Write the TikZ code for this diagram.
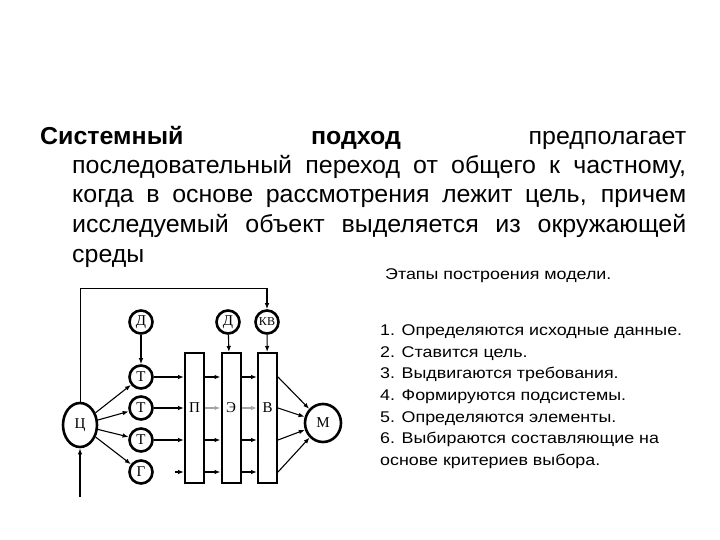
\documentclass[tikz,border=0pt]{standalone}
\usepackage{fontspec}
\usepackage{graphicx}
\setmainfont{Liberation Serif}
\newfontfamily\headfont{Liberation Sans}
\newfontfamily\listfont{Liberation Sans}
\usetikzlibrary{shapes.geometric, arrows.meta, positioning}
\newlength\natwidth

\begin{document}
% horizontal scale of the two text blocks
\settowidth\natwidth{\headfont\fontsize{24.5}{24.5}\selectfont последовательный}
\pgfmathsetmacro\headfac{220/\natwidth}
\pgfmathsetmacro\widthone{646/\headfac}
\pgfmathsetmacro\widthtwo{614/\headfac}
\settowidth\natwidth{\listfont\fontsize{15.5}{15.5}\selectfont 1. Определяются исходные данные.}
\pgfmathsetmacro\listfac{302/\natwidth}
\begin{tikzpicture}[x=1pt, y=-1pt,
        circ/.style={ellipse, draw, line width=2.6pt, inner sep=0pt, minimum width=23pt, minimum height=23pt, font=\fontsize{15}{15}\selectfont},
        block/.style={rectangle, draw, line width=2pt, minimum width=19pt, minimum height=130pt, inner sep=0pt},
        arr/.style={-{Latex[length=6pt, width=4.5pt]}, line width=1.1pt},
        headline/.style={anchor=base west, inner sep=0pt, font=\headfont\fontsize{24.5}{24.5}\selectfont},
        listline/.style={anchor=base west, inner sep=0pt, font=\listfont\fontsize{15.5}{15.5}\selectfont}
    ]
        \useasboundingbox[fill=white] (0,0) rectangle (720,540);

        % heading paragraph
        \node[headline] (line1) at (40,145) {\scalebox{\headfac}[1]{\makebox[\widthone pt][s]{{\bfseries Системный}\hfill{\bfseries подход}\hfill предполагает}}};
        \node[headline] (line2) at (72,174) {\scalebox{\headfac}[1]{\makebox[\widthtwo pt][s]{последовательный переход от общего к частному,}}};
        \node[headline] (line3) at (72,203) {\scalebox{\headfac}[1]{\makebox[\widthtwo pt][s]{когда в основе рассмотрения лежит цель, причем}}};
        \node[headline] (line4) at (72,233) {\scalebox{\headfac}[1]{\makebox[\widthtwo pt][s]{исследуемый объект выделяется из окружающей}}};
        \node[headline] (line5) at (72,262) {\scalebox{\headfac}[1]{среды}};

        % stages
        \node[listline] (title) at (385,279) {\scalebox{\listfac}[1]{Этапы построения модели.}};
        \node[listline] (item1) at (380,335) {\scalebox{\listfac}[1]{1. Определяются исходные данные.}};
        \node[listline] (item2) at (380,357) {\scalebox{\listfac}[1]{2. Ставится цель.}};
        \node[listline] (item3) at (380,378) {\scalebox{\listfac}[1]{3. Выдвигаются требования.}};
        \node[listline] (item4) at (380,400) {\scalebox{\listfac}[1]{4. Формируются подсистемы.}};
        \node[listline] (item5) at (380,422) {\scalebox{\listfac}[1]{5. Определяются элементы.}};
        \node[listline] (item6) at (380,443) {\scalebox{\listfac}[1]{6. Выбираются составляющие на}};
        \node[listline] (item7) at (380,465) {\scalebox{\listfac}[1]{основе критериев выбора.}};

        % model scheme
        \node[circ, minimum width=34pt, minimum height=44pt] (c) at (80,425) {Ц};
        \node[circ] (d1) at (141,322) {Д};
        \node[circ] (t1) at (141,377) {Т};
        \node[circ] (t2) at (141,408) {Т};
        \node[circ] (t3) at (141,440) {Т};
        \node[circ] (g) at (141,472) {Г};
        \node[block] (p) at (194.5,418) {};
        \node[block] (e) at (231,418) {};
        \node[block] (v) at (267.5,418) {};
        \node[circ] (d2) at (228,322) {Д};
        \node[circ, font=\fontsize{12}{12}\selectfont] (kv) at (267,322) {КВ};
        \node[circ, minimum width=36pt, minimum height=38pt] (m) at (323,423) {М};

        \node[font=\fontsize{15}{15}\selectfont] (plabel) at (p |- t2) {П};
        \node[font=\fontsize{15}{15}\selectfont] (elabel) at (e |- t2) {Э};
        \node[font=\fontsize{15}{15}\selectfont] (vlabel) at (v |- t2) {В};

        \coordinate (top) at (82,288);
        \coordinate (cin) at (80,497);
        \coordinate (gin) at (175,472);

        % arrows
        \draw[line width=1pt] (c) |- (kv |- top);
        \draw[arr] (kv |- top) -- (kv);
        \draw[arr] (cin) -- (c);
        \draw[arr] (d1) -- (t1);
        \draw[arr] (d2) -- (e);
        \draw[arr] (kv) -- (v);

        \draw[arr] (c) -- (t1);
        \draw[arr] (c) -- (t2);
        \draw[arr] (c) -- (t3);
        \draw[arr] (c) -- (g);

        \draw[arr] (t1) -- (p.west |- t1);
        \draw[arr] (t2) -- (p.west |- t2);
        \draw[arr] (t3) -- (p.west |- t3);
        \draw[arr] (gin) -- (p.west |- g);

        \draw[arr] (p.east |- t1) -- (e.west |- t1);
        \draw[arr, black!35] (p.east |- t2) -- (e.west |- t2);
        \draw[arr] (p.east |- t3) -- (e.west |- t3);
        \draw[arr] (p.east |- g) -- (e.west |- g);

        \draw[arr] (e.east |- t1) -- (v.west |- t1);
        \draw[arr, black!35] (e.east |- t2) -- (v.west |- t2);
        \draw[arr] (e.east |- t3) -- (v.west |- t3);
        \draw[arr] (e.east |- g) -- (v.west |- g);

        \draw[arr] (v.east |- t1) -- (m);
        \draw[arr] (v.east |- t2) -- (m);
        \draw[arr] (v.east |- t3) -- (m);
        \draw[arr] (v.east |- g) -- (m);
    \end{tikzpicture}
\end{document}
